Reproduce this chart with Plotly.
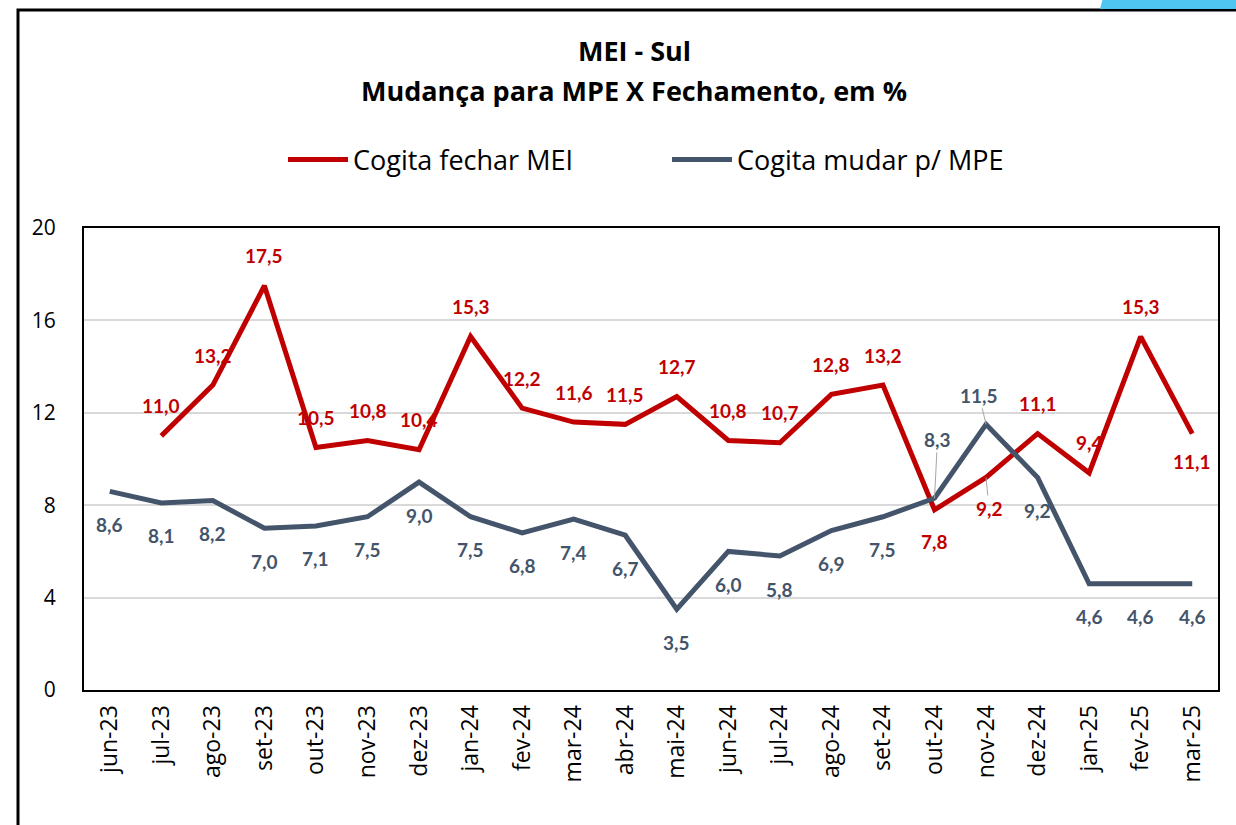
import plotly.graph_objects as go

# Monthly survey results, MEI - Sul region (%)
months = ["jun-23", "jul-23", "ago-23", "set-23", "out-23", "nov-23", "dez-23",
          "jan-24", "fev-24", "mar-24", "abr-24", "mai-24", "jun-24", "jul-24",
          "ago-24", "set-24", "out-24", "nov-24", "dez-24", "jan-25", "fev-25", "mar-25"]
fechar_mei = [None, 11.0, 13.2, 17.5, 10.5, 10.8, 10.4, 15.3, 12.2, 11.6, 11.5,
              12.7, 10.8, 10.7, 12.8, 13.2, 7.8, 9.2, 11.1, 9.4, 15.3, 11.1]
mudar_mpe = [8.6, 8.1, 8.2, 7.0, 7.1, 7.5, 9.0, 7.5, 6.8, 7.4, 6.7,
             3.5, 6.0, 5.8, 6.9, 7.5, 8.3, 11.5, 9.2, 4.6, 4.6, 4.6]
y_ticks = [0, 4, 8, 12, 16, 20]

RED = "#C00000"
SLATE = "#44546A"
LABEL_FONT = "Lato"
TEXT_FONT = "Open Sans"

# plot area in pixels (for placing paper-referenced items)
L, R, T, B = 84, 1218, 228, 690


def px_x(p):
    return (p - L) / (R - L)


def px_y(p):
    return (B - p) / (B - T)


fig = go.Figure()
fig.add_trace(go.Scatter(x=months, y=fechar_mei, name="Cogita fechar MEI",
                         mode="lines", line=dict(color=RED, width=5)))
fig.add_trace(go.Scatter(x=months, y=mudar_mpe, name="Cogita mudar p/ MPE",
                         mode="lines", line=dict(color=SLATE, width=5)))


def fmt(v):
    return f"{v:.1f}".replace(".", ",")


# label placement: red above and slate below by default; a few are moved
red_below = {"out-24": 32, "nov-24": 31, "mar-25": 28}
leader = {("red", "nov-24"): (3, 31), ("slate", "out-24"): (3, -59),
          ("slate", "nov-24"): (-7, -29)}


def add_labels(series, values, color, default_shift, moved):
    out = []
    for m, v in zip(months, values):
        if v is None:
            continue
        font = dict(color=color, size=19, family=LABEL_FONT)
        key = (series, m)
        if key in leader:
            ax, ay = leader[key]
            out.append(dict(x=m, y=v, text=f"<b>{fmt(v)}</b>", showarrow=True,
                            arrowhead=0, arrowwidth=1, arrowcolor="#A6A6A6",
                            ax=ax, ay=ay, font=font))
        else:
            shift = moved.get(m, default_shift)
            out.append(dict(x=m, y=v, text=f"<b>{fmt(v)}</b>", showarrow=False,
                            yshift=-shift, font=font))
    return out


annotations = []
annotations += add_labels("red", fechar_mei, RED, -30, red_below)
annotations += add_labels("slate", mudar_mpe, SLATE, 33, {})

# title lines
annotations.append(dict(xref="paper", yref="paper", x=px_x(634), y=px_y(50),
                        xanchor="center", yanchor="middle",
                        text="<b>MEI - Sul</b>", showarrow=False,
                        font=dict(size=27, family=TEXT_FONT, color="black")))
annotations.append(dict(xref="paper", yref="paper", x=px_x(634), y=px_y(90),
                        xanchor="center", yanchor="middle",
                        text="<b>Mudança para MPE X Fechamento, em %</b>", showarrow=False,
                        font=dict(size=27, family=TEXT_FONT, color="black")))

shapes = [
    # outer chart frame
    dict(type="rect", xref="paper", yref="paper",
         x0=px_x(18), x1=px_x(1250), y0=px_y(840), y1=px_y(10),
         line=dict(color="black", width=3), fillcolor="rgba(0,0,0,0)", layer="below"),
    # decorative band in the top-right corner
    dict(type="path", xref="paper", yref="paper",
         path=f"M {px_x(1100)} {px_y(9)} L {px_x(1103)} {px_y(-2)} "
              f"L {px_x(1240)} {px_y(-2)} L {px_x(1240)} {px_y(9)} Z",
         line=dict(width=0), fillcolor="#4FC6F2", layer="below"),
]

fig.update_layout(
    width=1236, height=825,
    margin=dict(l=L, r=1236 - R, t=T, b=825 - B),
    paper_bgcolor="white", plot_bgcolor="white",
    showlegend=True,
    legend=dict(orientation="h", x=px_x(283), xanchor="left", y=px_y(160), yanchor="middle",
                font=dict(size=27, family=TEXT_FONT, color="black"),
                itemwidth=60, entrywidth=309, entrywidthmode="pixels"),
    xaxis=dict(type="category", tickangle=-90, showgrid=False,
               tickfont=dict(size=23, family=TEXT_FONT, color="black"),
               showline=True, linecolor="black", linewidth=2, mirror=True,
               ticks="", ticklabelstandoff=4, range=[-0.5, len(months) - 0.5]),
    yaxis=dict(range=[0, 20], tickvals=y_ticks, showgrid=True, gridcolor="#D9D9D9", gridwidth=2,
               tickfont=dict(size=21, family=TEXT_FONT, color="black"),
               showline=True, linecolor="black", linewidth=2, mirror=True,
               zeroline=False, ticks="", ticklabelstandoff=22),
    annotations=annotations,
    shapes=shapes,
)

fig.write_html("out.html")
